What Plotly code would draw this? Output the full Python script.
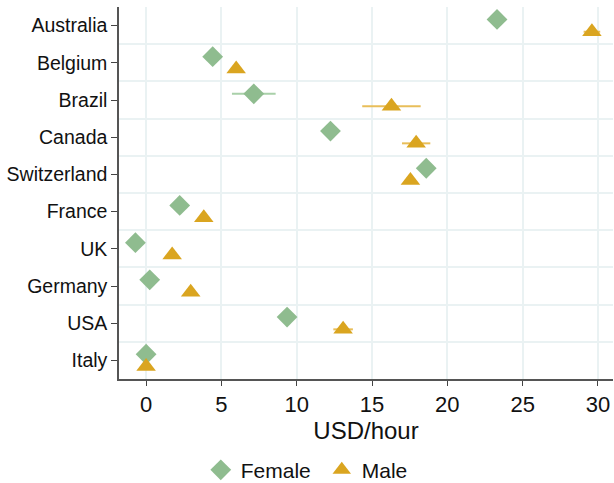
import plotly.graph_objects as go

countries = ["Australia", "Belgium", "Brazil", "Canada", "Switzerland",
             "France", "UK", "Germany", "USA", "Italy"]
female = [23.3, 4.42, 7.15, 12.24, 18.6, 2.23, -0.71, 0.24, 9.36, 0.0]
female_err = [0.0, 0.0, 1.45, 0.0, 0.0, 0.0, 0.0, 0.0, 0.0, 0.0]
male = [29.6, 5.98, 16.29, 17.93, 17.55, 3.83, 1.73, 2.96, 13.08, 0.0]
male_err = [0.55, 0.0, 1.94, 0.94, 0.0, 0.0, 0.0, 0.0, 0.65, 0.0]
x_ticks = [0, 5, 10, 15, 20, 25, 30]

GREEN = "#8FBC8F"
GOLD = "#DAA520"
idx = list(range(len(countries)))
offset = 0.165

fig = go.Figure()
fig.add_trace(go.Scatter(
    x=female, y=[i - offset for i in idx], mode="markers", name="Female",
    marker=dict(symbol="diamond", size=16, color=GREEN, line=dict(width=0)),
    error_x=dict(type="data", array=female_err, visible=True,
                 color="#A9D0A9", thickness=2, width=0),
))
fig.add_trace(go.Scatter(
    x=male, y=[i + offset for i in idx], mode="markers", name="Male",
    marker=dict(symbol="triangle-up", size=17, color=GOLD, line=dict(width=0)),
    error_x=dict(type="data", array=male_err, visible=True,
                 color="#E8BE5A", thickness=2, width=0),
))

# reference line at zero
fig.add_shape(type="line", x0=0, x1=0, y0=0, y1=1, yref="paper",
              line=dict(color="black", width=1.6), layer="below")

fig.update_layout(
    width=614, height=483,
    margin=dict(l=119, r=1, t=7, b=104, autoexpand=False),
    plot_bgcolor="white", paper_bgcolor="white",
    font=dict(family="Liberation Sans, Arial, sans-serif", size=19, color="#111"),
    showlegend=True,
    legend=dict(orientation="h", xref="container", x=0.327, xanchor="left",
                y=-0.19, yanchor="top", font=dict(size=21), itemwidth=30,
                entrywidth=76, traceorder="normal"),
)
fig.update_xaxes(
    range=[-1.8, 31.0], tickvals=x_ticks, ticks="outside", ticklen=5,
    tickcolor="#444", showline=True, linecolor="#555", linewidth=1.5,
    showgrid=True, gridcolor="#EAF2F3", gridwidth=1.5, zeroline=False,
    title=dict(text="USD/hour", font=dict(size=24), standoff=0),
    tickfont=dict(size=22),
)
fig.update_yaxes(
    range=[9.5, -0.5], tickvals=idx, ticktext=countries, ticks="outside",
    ticklen=6, tickcolor="#444", showline=True, linecolor="#555", linewidth=1.5,
    showgrid=False, zeroline=False,
    minor=dict(tickvals=[i + 0.5 for i in idx[:-1]], showgrid=True,
               gridcolor="#EAF2F3", gridwidth=1.5, ticks=""),
    tickfont=dict(size=19.5),
)

fig.write_html("out.html")
